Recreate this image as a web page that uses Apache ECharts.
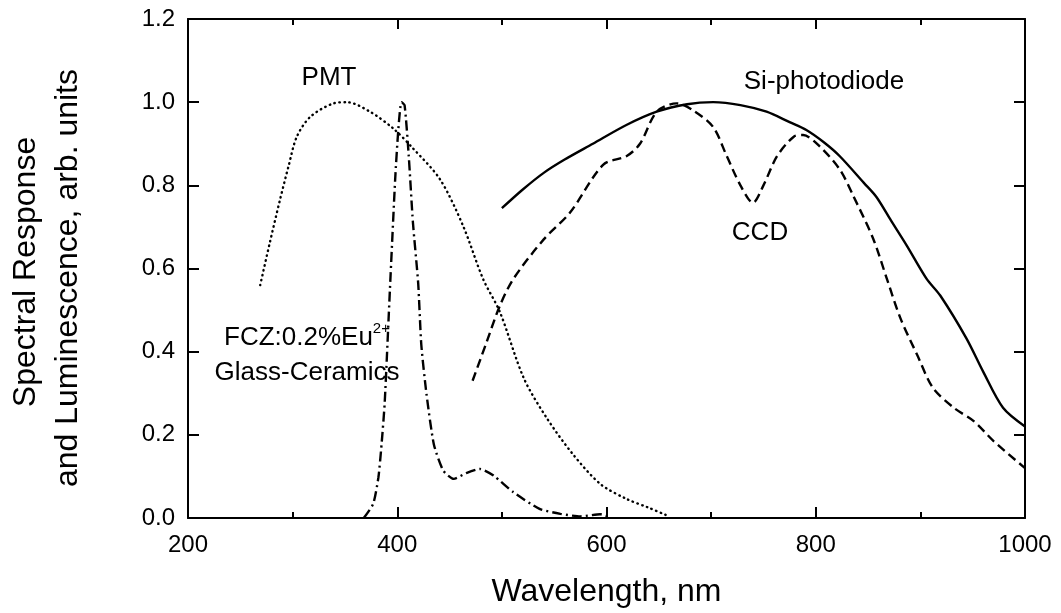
<!DOCTYPE html>
<html>
<head>
<meta charset="utf-8">
<script src="https://cdn.jsdelivr.net/npm/echarts@6/dist/echarts.min.js"></script>
<style>
html, body { margin: 0; padding: 0; background: #fff; }
#chart { width: 1061px; height: 613px; }
</style>
</head>
<body>
<div id="chart"></div>
<script>
// Si-photodiode (solid)
var siWave = [500, 520, 540, 560, 587, 619, 648, 677, 702, 728, 753, 775, 791, 808, 823, 846, 858, 872, 887, 906, 919, 944, 960, 979, 1000];
var siResp = [0.745, 0.79, 0.83, 0.862, 0.90, 0.945, 0.977, 0.995, 1.0, 0.993, 0.977, 0.952, 0.933, 0.903, 0.87, 0.806, 0.772, 0.715, 0.655, 0.575, 0.535, 0.432, 0.352, 0.265, 0.22];

// CCD (dashed)
var ccdWave = [472, 485, 498, 511, 540, 565, 597, 619, 632, 648, 667, 683, 702, 715, 728, 740, 750, 763, 779, 788, 804, 823, 836, 855, 868, 881, 897, 912, 932, 951, 970, 1000];
var ccdResp = [0.33, 0.42, 0.51, 0.575, 0.67, 0.734, 0.85, 0.87, 0.90, 0.977, 0.997, 0.98, 0.94, 0.87, 0.80, 0.758, 0.80, 0.87, 0.917, 0.921, 0.893, 0.838, 0.774, 0.671, 0.575, 0.48, 0.392, 0.313, 0.265, 0.233, 0.185, 0.12];

// PMT (dotted)
var pmtWave = [269, 278, 288, 296, 304, 317, 339, 352, 374, 396, 415, 441, 463, 482, 498, 521, 543, 568, 594, 619, 640, 657];
var pmtResp = [0.56, 0.66, 0.766, 0.845, 0.917, 0.965, 0.997, 1.0, 0.977, 0.937, 0.889, 0.814, 0.702, 0.575, 0.496, 0.336, 0.24, 0.153, 0.082, 0.046, 0.025, 0.007];

// FCZ:0.2%Eu2+ glass-ceramics luminescence (dash-dot)
var fczWave = [368, 377, 382, 385, 388, 393, 398, 401, 404, 407, 411, 415, 420, 423, 428, 435, 444, 454, 466, 479, 492, 511, 536, 556, 575, 594, 600];
var fczResp = [0.0, 0.034, 0.098, 0.177, 0.277, 0.55, 0.814, 0.933, 1.0, 0.993, 0.87, 0.71, 0.565, 0.416, 0.297, 0.177, 0.114, 0.094, 0.108, 0.118, 0.102, 0.062, 0.022, 0.01, 0.004, 0.009, 0.005];

function pairs(xs, ys) {
    var out = [];
    for (var i = 0; i < xs.length; i++) out.push([xs[i], ys[i]]);
    return out;
}

var font = 'Liberation Sans, Arial, sans-serif';

function lineSeries(name, xs, ys, dash, smooth, cap) {
    return {
        name: name,
        type: 'line',
        showSymbol: false,
        smooth: smooth,
        xAxisIndex: 0,
        yAxisIndex: 0,
        lineStyle: { color: '#000', width: 2.4, type: dash, cap: cap || 'butt' },
        data: pairs(xs, ys)
    };
}

var axisLine = { show: true, onZero: false, lineStyle: { color: '#000', width: 2 } };

var option = {
    backgroundColor: '#fff',
    animation: false,
    grid: { left: 188, right: 36, top: 19, bottom: 92 },
    xAxis: [
        {
            type: 'value', min: 200, max: 1000, interval: 200,
            name: 'Wavelength, nm', nameLocation: 'middle', nameGap: 58,
            nameTextStyle: { fontFamily: font, fontSize: 32, color: '#000' },
            axisLine: axisLine,
            axisTick: { inside: true, length: 11, lineStyle: { color: '#000', width: 2 } },
            minorTick: { show: true, splitNumber: 2, length: 6, lineStyle: { color: '#000', width: 2 } },
            axisLabel: {
                fontFamily: font, fontSize: 24, color: '#000', margin: 15,
                formatter: function (v) { return String(v); }
            },
            splitLine: { show: false }
        },
        {
            type: 'value', min: 200, max: 1000, interval: 200, position: 'top',
            axisLine: axisLine,
            axisTick: { inside: true, length: 10, lineStyle: { color: '#000', width: 2 } },
            minorTick: { show: true, splitNumber: 2, length: 6, lineStyle: { color: '#000', width: 2 } },
            axisLabel: { show: false },
            splitLine: { show: false }
        }
    ],
    yAxis: [
        {
            type: 'value', min: 0, max: 1.2, interval: 0.2,
            axisLine: axisLine,
            axisTick: { inside: true, length: 11, lineStyle: { color: '#000', width: 2 } },
            axisLabel: {
                fontFamily: font, fontSize: 24, color: '#000', margin: 13,
                formatter: function (v) { return v.toFixed(1); }
            },
            splitLine: { show: false }
        },
        {
            type: 'value', min: 0, max: 1.2, interval: 0.2, position: 'right',
            axisLine: axisLine,
            axisTick: { inside: true, length: 11, lineStyle: { color: '#000', width: 2 } },
            axisLabel: { show: false },
            splitLine: { show: false }
        }
    ],
    graphic: [
        {
            type: 'text', x: 26, y: 272, rotation: Math.PI / 2,
            style: { text: 'Spectral Response', font: '32px ' + font, fill: '#000', align: 'center', verticalAlign: 'middle' }
        },
        {
            type: 'text', x: 68, y: 278, rotation: Math.PI / 2,
            style: { text: 'and Luminescence, arb. units', font: '32px ' + font, fill: '#000', align: 'center', verticalAlign: 'middle' }
        },
        {
            type: 'text', x: 329, y: 78,
            style: { text: 'PMT', font: '26px ' + font, fill: '#000', align: 'center', verticalAlign: 'middle' }
        },
        {
            type: 'text', x: 824, y: 82,
            style: { text: 'Si-photodiode', font: '26px ' + font, fill: '#000', align: 'center', verticalAlign: 'middle' }
        },
        {
            type: 'text', x: 760, y: 233,
            style: { text: 'CCD', font: '26px ' + font, fill: '#000', align: 'center', verticalAlign: 'middle' }
        },
        {
            type: 'text', x: 307, y: 338,
            style: {
                text: '{m|FCZ:0.2%Eu}{s|2+}',
                align: 'center', verticalAlign: 'middle',
                rich: {
                    m: { fontFamily: font, fontSize: 26, fill: '#000', color: '#000' },
                    s: { fontFamily: font, fontSize: 15, fill: '#000', color: '#000', verticalAlign: 'top', padding: [0, 0, 18, 0] }
                }
            }
        },
        {
            type: 'text', x: 307, y: 373,
            style: { text: 'Glass-Ceramics', font: '26px ' + font, fill: '#000', align: 'center', verticalAlign: 'middle' }
        }
    ],
    series: [
        lineSeries('Si-photodiode', siWave, siResp, 'solid', 0.3),
        lineSeries('CCD', ccdWave, ccdResp, [9, 5], 0.3),
        lineSeries('PMT', pmtWave, pmtResp, [0.5, 4.5], 0.3, 'round'),
        lineSeries('FCZ:0.2%Eu2+ Glass-Ceramics', fczWave, fczResp, [10, 4, 2, 4], 0.2)
    ]
};

var myChart = echarts.init(document.getElementById('chart'), null, { renderer: 'canvas' });
myChart.setOption(option);
</script>
</body>
</html>
